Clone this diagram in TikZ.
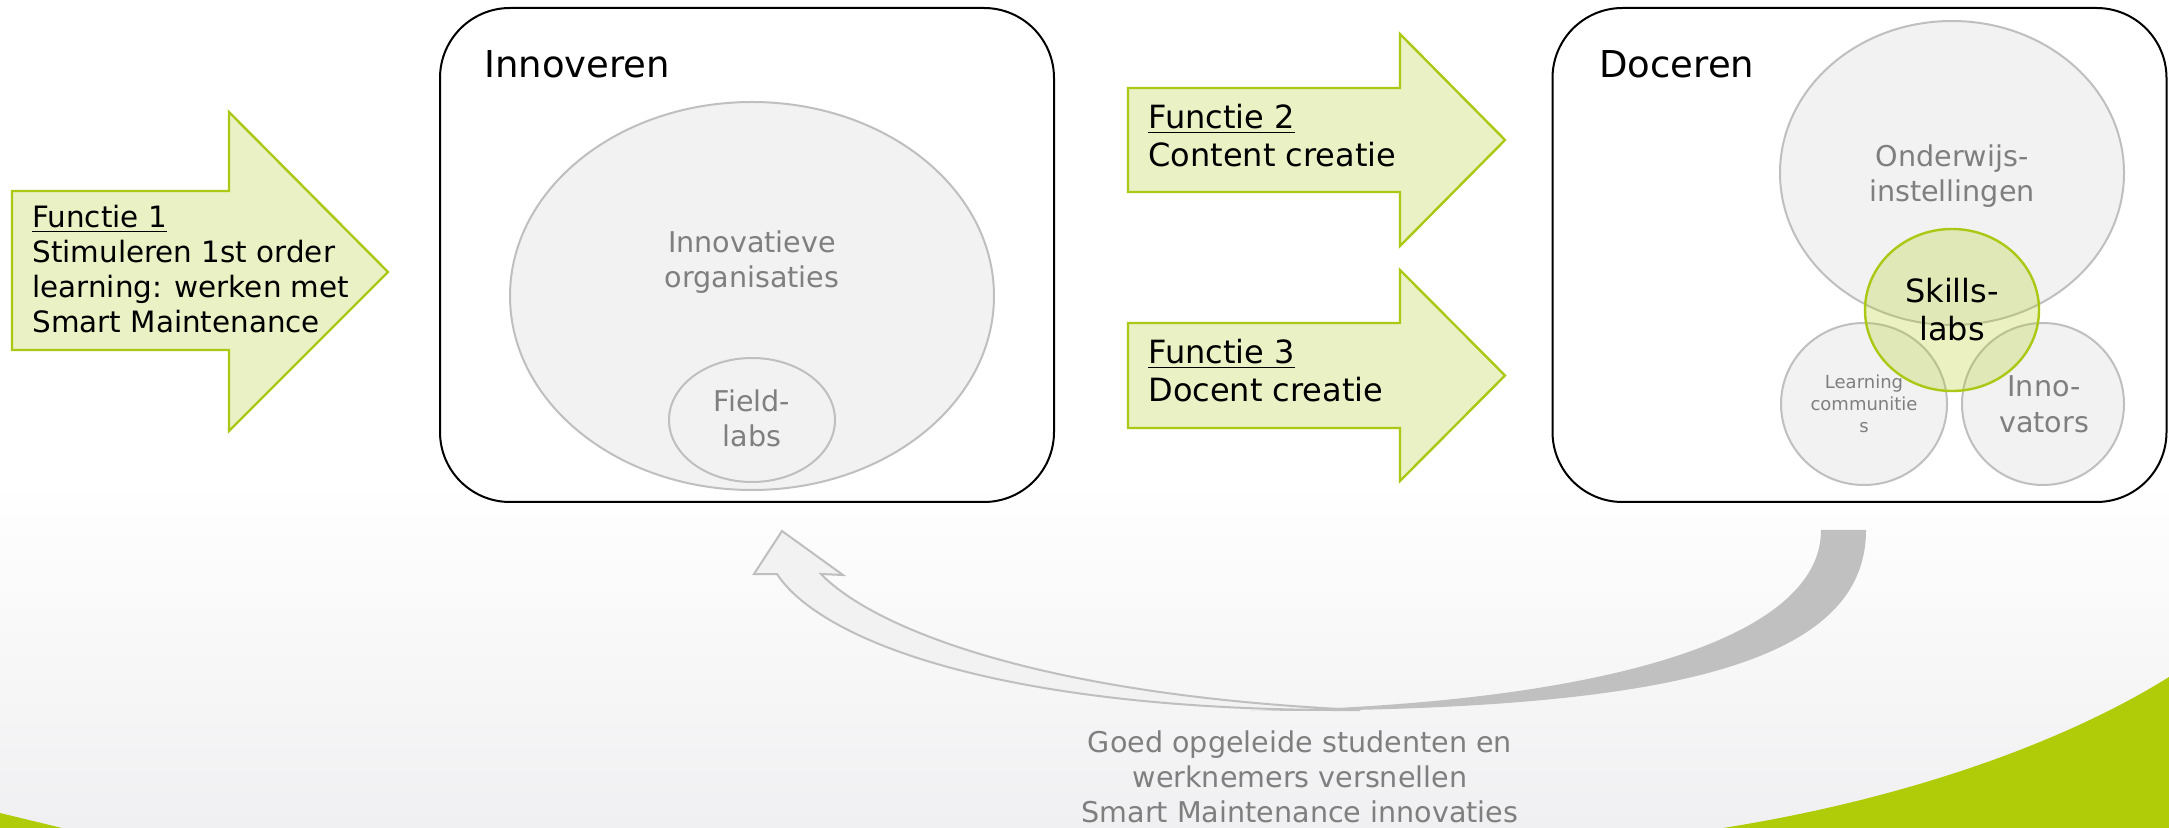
\documentclass[tikz,border=0pt]{standalone}
\usepackage{fontspec}
\setmainfont{DejaVu Sans}
\usetikzlibrary{shapes.geometric}
\definecolor{grn}{RGB}{176,203,8}
\definecolor{grnline}{RGB}{170,200,20}
\definecolor{grnfill}{RGB}{234,241,196}
\definecolor{ellfill}{RGB}{242,242,242}
\definecolor{elldraw}{RGB}{191,191,191}
\definecolor{txtgray}{RGB}{127,127,127}
\definecolor{bandgray}{RGB}{192,192,192}
\definecolor{bgbot}{RGB}{240,240,242}
\newcommand\myul[1]{\setbox0=\hbox{#1}\rlap{\rule[-2.2pt]{\wd0}{0.7pt}}\box0}
\newcommand\fsA{\fontsize{14.3pt}{17.5pt}\selectfont}
\newcommand\fsF{\fontsize{14.7pt}{17.5pt}\selectfont}
\newcommand\fsB{\fontsize{16pt}{19pt}\selectfont}
\newcommand\fsC{\fontsize{18.5pt}{22pt}\selectfont}
\newcommand\fsD{\fontsize{9pt}{11pt}\selectfont}
\newcommand\fsE{\fontsize{14.3pt}{18pt}\selectfont}
\begin{document}
\begin{tikzpicture}[x=0.5pt,y=-0.5pt,
  frame/.style={draw=black, line width=1pt, rounded corners=35pt, minimum width=307pt, minimum height=247pt, inner sep=0pt},
  blob/.style={ellipse, draw=elldraw, fill=ellfill, line width=1pt, inner sep=0pt},
  farrow/.style={draw=grnline, fill=grnfill, line width=1.2pt, line join=miter},
  ftext/.style={anchor=base west, align=left, inner sep=0pt, text=black},
  gtext/.style={anchor=base, align=center, inner sep=0pt, text=txtgray},
  ]
\useasboundingbox (0,0) rectangle (2169,828);
% background
\fill[white] (0,0) rectangle (2169,828);
\shade[top color=white, bottom color=bgbot] (0,480) rectangle (2169,828);
% green swooshes
\fill[grn] (1723,828) .. controls (1900,800) and (2060,745) .. (2169,677) -- (2169,828) -- cycle;
\fill[grn] (0,813) -- (62,828) -- (0,828) -- cycle;
% frames
\node[frame] (inn) at (747,255) {};
\node[frame] (doc) at (1859.5,255) {};
% Innoveren ellipses
\node[blob, minimum width=242pt, minimum height=194pt] (org) at (752,296) {};
\node[blob, minimum width=83pt, minimum height=62pt] (field) at (752,420) {};
% Doceren ellipses
\node[blob, minimum width=172pt, minimum height=152pt] (ond) at (1952,173) {};
\node[blob, minimum width=83pt, minimum height=81pt] (lc) at (1864,404) {};
\node[blob, minimum width=81pt, minimum height=81pt] (innov) at (2043,404) {};
\node[ellipse, inner sep=0pt, minimum width=87pt, minimum height=81pt, fill=grn, fill opacity=0.25, draw=grnline, draw opacity=1, line width=1.2pt] (skills) at (1952,310) {};
% function arrows
\draw[farrow] (12,191) -- (229,191) -- (229,112) -- (388,272) -- (229,431) -- (229,350) -- (12,350) -- cycle;
\draw[farrow] (1128,88) -- (1400,88) -- (1400,34) -- (1505,140) -- (1400,246) -- (1400,192) -- (1128,192) -- cycle;
\draw[farrow] (1128,323) -- (1400,323) -- (1400,270) -- (1505,375.5) -- (1400,481) -- (1400,428) -- (1128,428) -- cycle;
% curved return arrow
\fill[bandgray] (1821,530) -- (1866,530) .. controls (1866,670) and (1650,711) .. (1250,711)
   .. controls (1600,704) and (1821,640) .. (1821,530) -- cycle;
\filldraw[fill=ellfill, draw=elldraw, line width=1pt, line join=miter] (777,574) -- (754,574) -- (782,531) -- (843,575) -- (821,574)
   .. controls (870,625) and (1030,695) .. (1360,710)
   .. controls (1000,712) and (820,640) .. (777,574) -- cycle;
% texts (anchor = baseline of last line)
\node[ftext, font=\fsF] (t1) at (32,333) {\myul{Functie 1}\\Stimuleren 1st order\\learning: werken met\\Smart Maintenance};
\node[ftext, font=\fsB] (t2) at (1148,167) {\myul{Functie 2}\\Content creatie};
\node[ftext, font=\fsB] (t3) at (1148,402) {\myul{Functie 3}\\Docent creatie};
\node[ftext, font=\fsC] (tinn) at (484,78) {Innoveren};
\node[ftext, font=\fsC] (tdoc) at (1599,78) {Doceren};
\node[gtext, font=\fsA] (torg) at (752,288) {Innovatieve\\organisaties};
\node[gtext, font=\fsA] (tfield) at (752,447) {Field-\\labs};
\node[gtext, font=\fsA] (tond) at (1952,202) {Onderwijs-\\instellingen};
\node[gtext, font=\fsB, text=black] (tsk) at (1952,341) {Skills-\\labs};
\node[gtext, font=\fsD] (tlc) at (1864,433) {Learning\\communitie\\s};
\node[gtext, font=\fsE] (tinv) at (2044,433) {Inno-\\vators};
\node[gtext, font=\fsA] (tbot) at (1300,822) {Goed opgeleide studenten en\\werknemers versnellen\\Smart Maintenance innovaties};
\end{tikzpicture}
\end{document}
